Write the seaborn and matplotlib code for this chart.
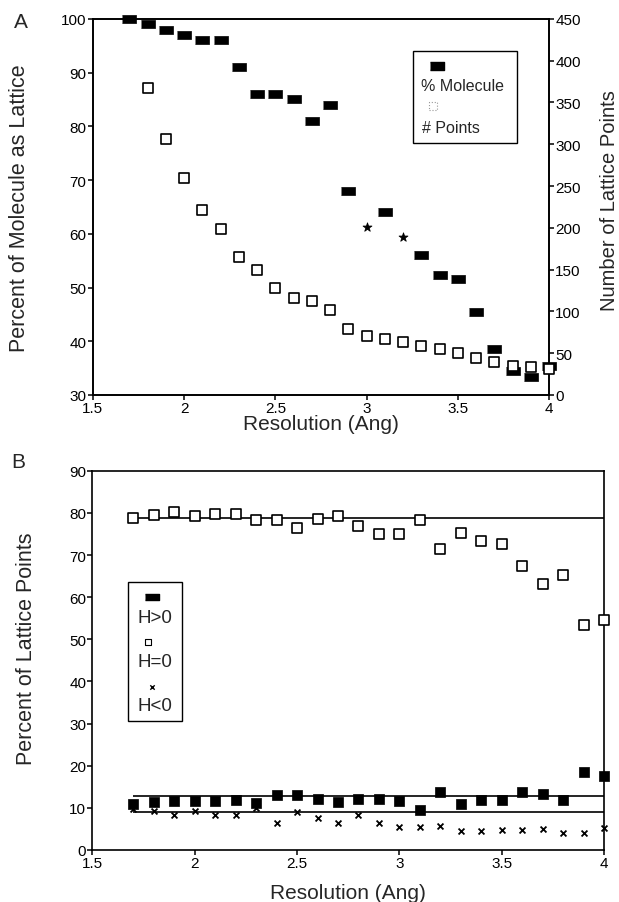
import numpy as np
import matplotlib
matplotlib.use("Agg")
import matplotlib.pyplot as plt
from matplotlib.patches import Rectangle
import seaborn as sns

# resolution (Ang), same grid for both panels
resolution = [1.7, 1.8, 1.9, 2.0, 2.1, 2.2, 2.3, 2.4, 2.5, 2.6, 2.7, 2.8,
              2.9, 3.0, 3.1, 3.2, 3.3, 3.4, 3.5, 3.6, 3.7, 3.8, 3.9, 4.0]

# panel A: percent of molecule represented as lattice (left axis)
pct_molecule = [100, 99, 98, 97, 96, 96, 91, 86, 86, 85, 81, 84,
                68, 61.3, 64, 59.4, 56, 52.4, 51.6, 45.5, 38.5, 34.5, 33.3, 35.3]
# points printed as asterisks in the scan
pct_star_res = [3.0, 3.2]

# panel A: number of lattice points (right axis), 1.7 is off scale
n_points = [np.nan, 367, 306, 260, 221, 199, 165, 149, 128, 116, 112, 102,
            79, 70, 67, 63, 58, 55, 50, 44, 39, 35, 33, 31]

# panel B: percent of lattice points by hydrophobicity
h_pos = [11, 11.3, 11.7, 11.7, 11.6, 11.9, 11.1, 13.1, 13.1, 12, 11.3, 12,
         12, 11.6, 9.6, 13.7, 10.9, 11.9, 11.9, 13.7, 13.4, 11.9, 18.6, 17.5]
h_zero = [78.7, 79.5, 80.3, 79.2, 79.7, 79.8, 78.2, 78.4, 76.4, 78.5, 79.2, 76.8,
          74.9, 74.9, 78.2, 71.5, 75.2, 73.3, 72.5, 67.3, 63.1, 65.3, 53.3, 54.6]
h_neg = [9.7, 9.2, 8.2, 9.2, 8.2, 8.3, 9.9, 6.3, 8.9, 7.5, 6.3, 8.3,
         6.4, 5.5, 5.5, 5.8, 4.4, 4.6, 4.7, 4.8, 5.0, 4.0, 4.0, 5.2]
# reference lines drawn across panel B
ref_levels = [78.8, 12.8, 8.9]

sns.set_style("ticks")
plt.rcParams['font.family'] = ['Liberation Sans', 'DejaVu Sans']
plt.rcParams['axes.linewidth'] = 1.2
plt.rcParams['xtick.major.width'] = 1.1
plt.rcParams['ytick.major.width'] = 1.1
plt.rcParams['xtick.major.size'] = 3.5
plt.rcParams['ytick.major.size'] = 3.5
plt.rcParams['xtick.color'] = 'black'
plt.rcParams['ytick.color'] = 'black'

dash = [(-1, -0.5), (1, -0.5), (1, 0.5), (-1, 0.5)]
res = np.array(resolution)
pct = np.array(pct_molecule, dtype=float)
star = np.isin(np.round(res, 1), pct_star_res)

fig = plt.figure(figsize=(6.19, 9.03), dpi=100)

# ---------------- panel A ----------------
axA = fig.add_axes([0.150, 0.5615, 0.737, 0.4165])
axA2 = axA.twinx()

sns.scatterplot(x=res[~star], y=pct[~star], marker=dash, s=110, color='black',
                edgecolor='black', linewidth=0.5, ax=axA, zorder=3, clip_on=False)
sns.scatterplot(x=res[star], y=pct[star], marker='*', s=45, color='black',
                edgecolor='black', linewidth=0.6, ax=axA, zorder=3, clip_on=False)
sns.scatterplot(x=res, y=n_points, marker='s', s=55, color='white',
                edgecolor='black', linewidth=1.2, ax=axA2, zorder=3, clip_on=False)

axA.set_xlim(1.5, 4)
axA.set_ylim(30, 100)
axA.set_xticks([1.5, 2, 2.5, 3, 3.5, 4])
axA.set_xticklabels(['1.5', '2', '2.5', '3', '3.5', '4'])
axA.set_yticks(range(30, 101, 10))
axA2.set_ylim(0, 450)
axA2.set_yticks(range(0, 451, 50))
for ax in (axA, axA2):
    ax.tick_params(labelsize=11, direction='out', pad=1)
    for s in ax.spines.values():
        s.set_visible(True)
        s.set_color('black')

axA.set_xlabel('Resolution (Ang)', fontsize=15)
axA.set_ylabel('Percent of Molecule as Lattice', fontsize=15.5)
axA2.set_ylabel('Number of Lattice Points', fontsize=14.5, rotation=90)
axA.xaxis.set_label_coords(0.5, -0.05)
axA.yaxis.set_label_coords(-0.138, 0.5)
axA2.yaxis.set_label_coords(1.112, 0.52)
fig.text(21 / 619, 1 - 22 / 903, 'A', fontsize=15, ha='center', va='center')

# legend A, marker above label
axA.add_patch(Rectangle((0.702, 0.670), 0.228, 0.245, transform=axA.transAxes,
                        fill=False, edgecolor='black', linewidth=1.0, zorder=4))
axA.scatter([0.754], [0.875], marker=dash, s=110, color='black',
            transform=axA.transAxes, zorder=5)
axA.text(0.72, 0.822, '% Molecule', fontsize=11.5, transform=axA.transAxes,
         ha='left', va='center', zorder=5)
axA.scatter([0.746], [0.769], marker='s', s=30, facecolor='white',
            edgecolor='#999999', linewidth=0.8, linestyle=':', transform=axA.transAxes, zorder=5)
axA.text(0.722, 0.71, '# Points', fontsize=11.5, transform=axA.transAxes,
         ha='left', va='center', zorder=5)

# ---------------- panel B ----------------
axB = fig.add_axes([0.1494, 0.0576, 0.8264, 0.42])

axB.hlines(ref_levels, resolution[0], resolution[-1], color='black', linewidth=1.2, zorder=2)
sns.scatterplot(x=resolution, y=h_pos, marker='s', s=60, color='black',
                edgecolor='black', linewidth=0.5, ax=axB, zorder=3, clip_on=False)
sns.scatterplot(x=resolution, y=h_zero, marker='s', s=60, color='white',
                edgecolor='black', linewidth=1.2, ax=axB, zorder=3, clip_on=False)
sns.scatterplot(x=resolution, y=h_neg, marker='x', s=18, color='black',
                linewidth=1.3, ax=axB, zorder=3, clip_on=False)

axB.set_xlim(1.5, 4)
axB.set_ylim(0, 90)
axB.set_xticks([1.5, 2, 2.5, 3, 3.5, 4])
axB.set_xticklabels(['1.5', '2', '2.5', '3', '3.5', '4'])
axB.set_yticks(range(0, 91, 10))
axB.tick_params(labelsize=11, direction='out', pad=1)
axB.tick_params(axis='y', right=False)
for s in axB.spines.values():
    s.set_visible(True)
    s.set_color('black')
axB.set_xlabel('Resolution (Ang)', fontsize=15)
axB.set_ylabel('Percent of Lattice Points', fontsize=15.5)
axB.xaxis.set_label_coords(0.5, -0.088)
axB.yaxis.set_label_coords(-0.1085, 0.533)
fig.text(18 / 619, 1 - 463 / 903, 'B', fontsize=15, ha='center', va='center')

# legend B, marker above label
axB.add_patch(Rectangle((0.0694, 0.340), 0.1056, 0.3666, transform=axB.transAxes,
                        fill=False, edgecolor='black', linewidth=1.0, zorder=4))
axB.scatter([0.116], [0.667], marker=dash, s=90, color='black',
            transform=axB.transAxes, zorder=5)
axB.text(0.1222, 0.612, 'H>0', fontsize=13.5, transform=axB.transAxes,
         ha='center', va='center', zorder=5)
axB.scatter([0.108], [0.548], marker='s', s=18, facecolor='white',
            edgecolor='black', linewidth=0.8, transform=axB.transAxes, zorder=5)
axB.text(0.1222, 0.4957, 'H=0', fontsize=13.5, transform=axB.transAxes,
         ha='center', va='center', zorder=5)
axB.scatter([0.116], [0.43], marker='x', s=10, color='black', linewidth=1.0,
            transform=axB.transAxes, zorder=5)
axB.text(0.1222, 0.38, 'H<0', fontsize=13.5, transform=axB.transAxes,
         ha='center', va='center', zorder=5)

fig.savefig('out.png', dpi=100)
